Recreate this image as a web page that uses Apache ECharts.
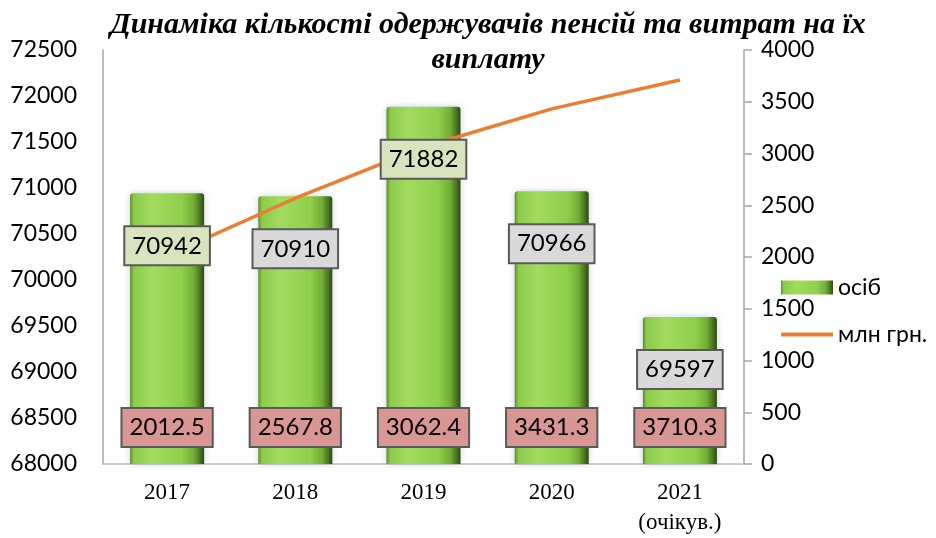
<!DOCTYPE html>
<html>
<head>
<meta charset="utf-8">
<script src="https://cdn.jsdelivr.net/npm/echarts@6/dist/echarts.min.js"></script>
<style>
  html, body { margin: 0; padding: 0; background: #fff; }
  #main { width: 936px; height: 538px; }
</style>
</head>
<body>
<div id="main"></div>
<script>
// дані
const years = ['2017', '2018', '2019', '2020', '2021\n(очікув.)']
const persons = [70942, 70910, 71882, 70966, 69597] // осіб
const spending = [2012.5, 2567.8, 3062.4, 3431.3, 3710.3] // млн грн.
const leftAxis = { min: 68000, max: 72500, interval: 500 }
const rightAxis = { min: 0, max: 4000, interval: 500 }

const chart = echarts.init(document.getElementById('main'))

// заливка підписів стовпців
const boxFills = ['#D7E4BD', '#D9D9D9', '#D7E4BD', '#D9D9D9', '#D9D9D9']

const barFill = {
  type: 'linear',
  x: 0, y: 0, x2: 1, y2: 0,
  colorStops: [
    { offset: 0, color: '#5E8A2E' },
    { offset: 0.05, color: '#8CCB4A' },
    { offset: 0.3, color: '#A2DB60' },
    { offset: 0.7, color: '#8FCF4C' },
    { offset: 0.86, color: '#73AE38' },
    { offset: 0.95, color: '#47711F' },
    { offset: 1, color: '#2E4A14' },
  ],
}

const axisText = {
  fontFamily: 'Lato',
  fontSize: 23,
  color: '#000',
  formatter: (v) => String(v),
}

const boxLabel = {
  show: true,
  fontFamily: 'Lato',
  fontSize: 24,
  lineHeight: 25,
  color: '#000',
  borderColor: '#595959',
  borderWidth: 2,
  padding: [6, 7],
}

const option = {
  animation: false,
  title: {
    text: 'Динаміка кількості одержувачів пенсій та витрат на їх\nвиплату',
    left: 483,
    top: 3,
    textAlign: 'center',
    textStyle: {
      fontFamily: 'Liberation Serif',
      fontStyle: 'italic',
      fontWeight: 'bold',
      fontSize: 30,
      lineHeight: 35,
      color: '#000',
    },
  },
  legend: {
    orient: 'vertical',
    left: 776,
    top: 271,
    itemWidth: 52,
    itemHeight: 14,
    itemGap: 24,
    textStyle: { fontFamily: 'Lato', fontSize: 23, color: '#000' },
    data: [
      { name: 'осіб', icon: 'rect' },
      { name: 'млн грн.', icon: 'path://M0,0H52V4H0Z' },
    ],
  },
  grid: {
    left: 103,
    right: 192,
    top: 50,
    bottom: 73,
  },
  xAxis: {
    type: 'category',
    data: years,
    axisLine: { lineStyle: { color: '#BFBFBF', width: 1.5 } },
    axisTick: { show: false },
    axisLabel: {
      fontFamily: 'Liberation Serif',
      fontSize: 23,
      lineHeight: 30,
      color: '#000',
      margin: 14,
    },
  },
  yAxis: [
    {
      type: 'value',
      min: leftAxis.min,
      max: leftAxis.max,
      interval: leftAxis.interval,
      axisLine: { show: true, lineStyle: { color: '#A6A6A6', width: 1.5 } },
      axisTick: { show: false },
      splitLine: { show: false },
      axisLabel: { ...axisText, margin: 26 },
    },
    {
      type: 'value',
      min: rightAxis.min,
      max: rightAxis.max,
      interval: rightAxis.interval,
      axisLine: { show: true, lineStyle: { color: '#A6A6A6', width: 1.5 } },
      axisTick: { show: true, length: 8, lineStyle: { color: '#A6A6A6', width: 1.5 } },
      splitLine: { show: false },
      axisLabel: { ...axisText, margin: 17 },
    },
  ],
  series: [
    {
      name: 'осіб',
      type: 'bar',
      data: persons,
      barWidth: 74,
      barGap: '-100%',
      z: 2,
      itemStyle: {
        color: barFill,
        borderRadius: [3, 3, 0, 0],
        shadowColor: 'rgba(90,110,140,0.35)',
        shadowBlur: 6,
      },
    },
    {
      name: 'млн грн.',
      type: 'line',
      yAxisIndex: 1,
      data: spending,
      symbol: 'none',
      z: 3,
      itemStyle: { color: '#ED7D31' },
      lineStyle: { color: '#ED7D31', width: 3.5 },
    },
    // підписи кількості осіб
    {
      type: 'bar',
      data: persons.map((v, i) => ({
        value: v,
        label: { backgroundColor: boxFills[i] },
      })),
      barWidth: 74,
      barGap: '-100%',
      silent: true,
      z: 4,
      itemStyle: { color: 'rgba(0,0,0,0)' },
      label: { ...boxLabel, position: 'insideTop', distance: 34 },
    },
    // підписи витрат
    {
      type: 'bar',
      yAxisIndex: 1,
      data: spending,
      barWidth: 74,
      barGap: '-100%',
      silent: true,
      z: 4,
      itemStyle: { color: 'rgba(0,0,0,0)' },
      label: {
        ...boxLabel,
        position: 'insideBottom',
        distance: 18,
        backgroundColor: '#D99694',
        formatter: (p) => p.value.toFixed(1),
      },
    },
  ],
}

chart.setOption(option)
</script>
</body>
</html>
